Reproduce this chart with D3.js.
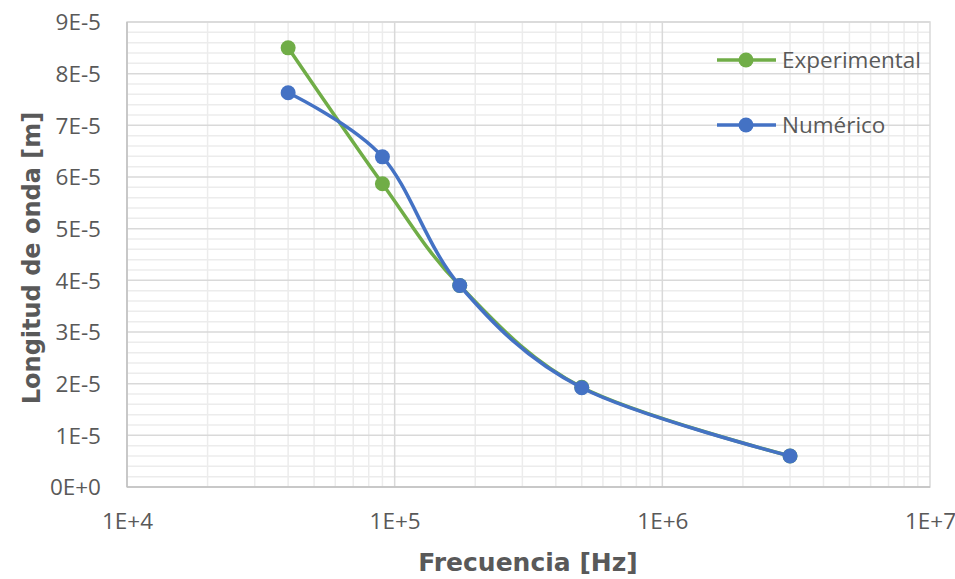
<!DOCTYPE html>
<html><head><meta charset="utf-8">
<script src="https://cdn.jsdelivr.net/npm/d3@7"></script>
<style>body{margin:0;background:#fff}svg{display:block}</style>
</head><body>
<svg id="c" width="955" height="579"></svg>
<script>
const frequencies = [40000, 90000, 175000, 500000, 3000000];
const experimental = [8.5e-5, 5.87e-5, 3.9e-5, 1.93e-5, 0.6e-5];
const numerico = [7.63e-5, 6.39e-5, 3.9e-5, 1.92e-5, 0.6e-5];
const seriesNames = ["Experimental", "Numérico"];
const xTickValues = [1e4, 1e5, 1e6, 1e7];
const xTickLabels = ["1E+4", "1E+5", "1E+6", "1E+7"];
const yTickValues = [0, 1e-5, 2e-5, 3e-5, 4e-5, 5e-5, 6e-5, 7e-5, 8e-5, 9e-5];
const yTickLabels = ["0E+0", "1E-5", "2E-5", "3E-5", "4E-5", "5E-5", "6E-5", "7E-5", "8E-5", "9E-5"];

const svg = d3.select("#c");
const L = 127, R = 930, T = 22, B = 487;
const x = d3.scaleLog().domain([1e4, 1e7]).range([L, R]);
const y = d3.scaleLinear().domain([0, 9e-5]).range([B, T]);

const g = svg.append("g");
// minor vertical gridlines
const minorX = [];
for (let d = 1e4; d < 1e7; d *= 10) for (let k = 2; k <= 9; k++) minorX.push(d * k);
g.selectAll(".mx").data(minorX).join("line")
  .attr("x1", d => x(d)).attr("x2", d => x(d)).attr("y1", T).attr("y2", B)
  .attr("stroke", "#ececec").attr("stroke-width", 1.5);
// minor horizontal gridlines
const minorY = [];
for (let i = 0; i < 9; i++) for (let k = 1; k <= 4; k++) minorY.push((i + k * 0.2) * 1e-5);
g.selectAll(".my").data(minorY).join("line")
  .attr("x1", L).attr("x2", R).attr("y1", d => y(d)).attr("y2", d => y(d))
  .attr("stroke", "#ececec").attr("stroke-width", 1.5);
// major gridlines
g.selectAll(".Mx").data(xTickValues.slice(1, -1)).join("line")
  .attr("x1", d => x(d)).attr("x2", d => x(d)).attr("y1", T).attr("y2", B)
  .attr("stroke", "#d9d9d9").attr("stroke-width", 1.5);
g.selectAll(".My").data(yTickValues.slice(1)).join("line")
  .attr("x1", L).attr("x2", R).attr("y1", d => y(d)).attr("y2", d => y(d))
  .attr("stroke", "#d9d9d9").attr("stroke-width", 1.5);
// border
g.append("rect").attr("x", L).attr("y", T).attr("width", R - L).attr("height", B - T)
  .attr("fill", "none").attr("stroke", "#d9d9d9").attr("stroke-width", 1.5);
g.append("line").attr("x1", L).attr("x2", L).attr("y1", T).attr("y2", B).attr("stroke", "#bfbfbf").attr("stroke-width", 1.5);
g.append("line").attr("x1", L).attr("x2", R).attr("y1", B).attr("y2", B).attr("stroke", "#bfbfbf").attr("stroke-width", 1.5);

// axes (labels only)
const xAxis = d3.axisBottom(x).tickValues(xTickValues).tickFormat((d, i) => xTickLabels[i]).tickSize(0).tickPadding(0);
const ax = svg.append("g").attr("transform", `translate(0,${B})`).call(xAxis);
ax.select(".domain").remove();
ax.selectAll("text").attr("dy", null).attr("y", 42).attr("fill", "#595959")
  .style("font-family", "'Open Sans'").style("font-size", "22.5px");
const yAxis = d3.axisLeft(y).tickValues(yTickValues).tickFormat((d, i) => yTickLabels[i]).tickSize(0).tickPadding(0);
const ay = svg.append("g").attr("transform", `translate(101,0)`).call(yAxis);
ay.select(".domain").remove();
ay.selectAll("text").attr("x", 0).attr("dy", "0.35em").attr("fill", "#595959")
  .style("font-family", "'Open Sans'").style("font-size", "22.5px");

// titles
svg.append("text").attr("x", 528).attr("y", 571).attr("text-anchor", "middle")
  .attr("fill", "#595959").style("font-family", "'DejaVu Sans'").style("font-weight", "bold")
  .style("font-size", "25px").text("Frecuencia [Hz]");
svg.append("text").attr("transform", "translate(40,258) rotate(-90)").attr("text-anchor", "middle")
  .attr("fill", "#595959").style("font-family", "'DejaVu Sans'").style("font-weight", "bold")
  .style("font-size", "24px").text("Longitud de onda [m]");

// series
const colors = ["#70ad47", "#4472c4"];
const allSeries = [experimental, numerico];
const line = d3.line().x(d => x(d[0])).y(d => y(d[1])).curve(d3.curveCatmullRom.alpha(0));
allSeries.forEach((vals, si) => {
  const pts = frequencies.map((f, i) => [f, vals[i]]);
  svg.append("path").datum(pts).attr("d", line).attr("fill", "none")
    .attr("stroke", colors[si]).attr("stroke-width", 3.5).attr("stroke-linecap", "round");
  svg.selectAll(".pt" + si).data(pts).join("circle")
    .attr("cx", d => x(d[0])).attr("cy", d => y(d[1])).attr("r", 7.5).attr("fill", colors[si]);
});

// legend
const legY = [60, 125];
seriesNames.forEach((n, i) => {
  const lg = svg.append("g");
  lg.append("line").attr("x1", 717).attr("x2", 776).attr("y1", legY[i]).attr("y2", legY[i])
    .attr("stroke", colors[i]).attr("stroke-width", 3.5);
  lg.append("circle").attr("cx", 746).attr("cy", legY[i]).attr("r", 7.5).attr("fill", colors[i]);
  lg.append("text").attr("x", 782).attr("y", legY[i]).attr("dy", "0.35em").attr("fill", "#595959")
    .style("font-family", "'Open Sans'").style("font-size", "22.5px").text(n);
});
</script>
</body></html>
